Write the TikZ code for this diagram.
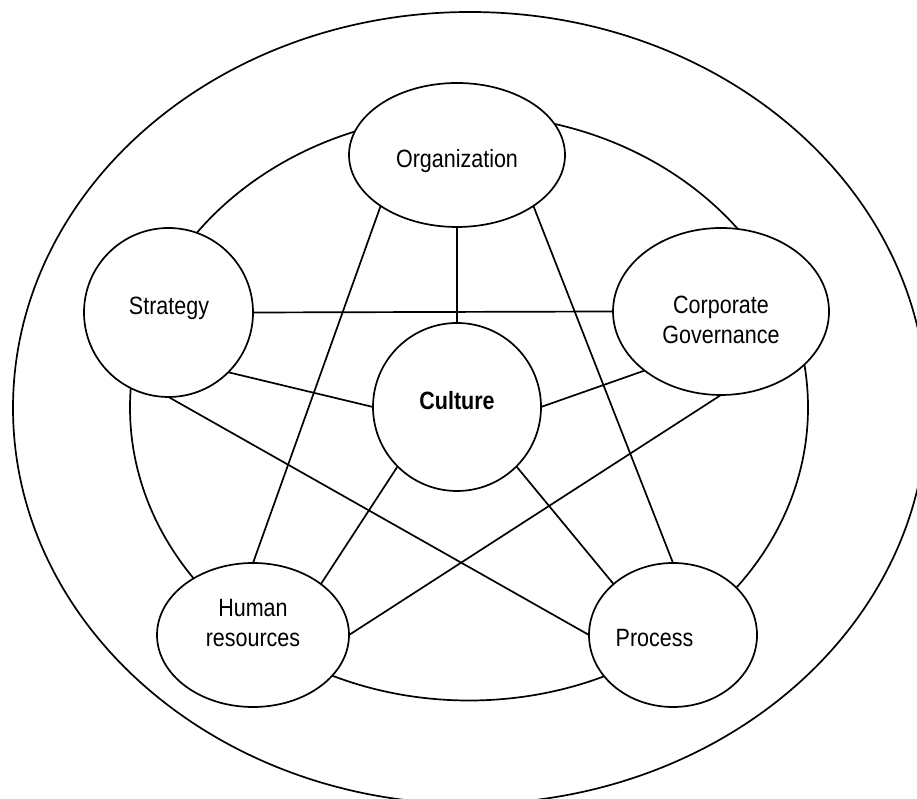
\documentclass[tikz,border=0pt]{standalone}
\usepackage{fontspec}
\setmainfont{Liberation Sans}[FakeStretch=0.86]
\usetikzlibrary{shapes.geometric}
\begin{document}
\begin{tikzpicture}[x=1pt,y=1pt, line width=1.7pt,
  shapebox/.style={draw, fill=white, ellipse, inner sep=0pt, outer sep=0pt},
  lbl/.style={font=\fontsize{25}{30}\selectfont, inner sep=0pt, align=center},
  link/.style={draw}]
\useasboundingbox (0,0) rectangle (917,799);
\clip (0,0) rectangle (917,799);
% rings
\draw (470,391) ellipse [x radius=457, y radius=396];
\draw (469,391.5) ellipse [x radius=339, y radius=293];
% shapes
\node[shapebox, minimum width=216pt, minimum height=144pt] (org) at (457,644) {};
\node[shapebox, minimum width=169pt, minimum height=169pt] (str) at (168.5,486.5) {};
\node[shapebox, minimum width=216pt, minimum height=167pt] (cor) at (721,487.5) {};
\node[shapebox, minimum width=168pt, minimum height=168pt] (cul) at (457,392) {};
\node[shapebox, minimum width=192pt, minimum height=144pt] (hr) at (253,164) {};
\node[shapebox, minimum width=168pt, minimum height=144pt] (pro) at (673,164) {};
% connectors
\draw[link] (org.south) -- (cul.north);
\draw[link] (str.east) -- (cor.west);
\draw[link] (org.south west) -- (hr.north);
\draw[link] (org.south east) -- (pro.north);
\draw[link] (str.south east) -- (cul.west);
\draw[link] (str.south) -- (pro.west);
\draw[link] (cor.south west) -- (cul.east);
\draw[link] (cor.south) -- (hr.east);
\draw[link] (cul.south west) -- (hr.north east);
\draw[link] (cul.south east) -- (pro.north west);
% labels
\node[lbl, anchor=base] (torg) at (457,631) {Organization};
\node[lbl, anchor=base] (tstr) at (169,484) {Strategy};
\node[lbl] (tcor) at (721,479) {Corporate\\Governance};
\node[lbl, anchor=base, font=\fontsize{25}{30}\selectfont\bfseries] (tcul) at (457,389) {Culture};
\node[lbl] (thr) at (253,176) {Human\\resources};
\node[lbl, anchor=base] (tpro) at (654.5,152) {Process};
\end{tikzpicture}
\end{document}
